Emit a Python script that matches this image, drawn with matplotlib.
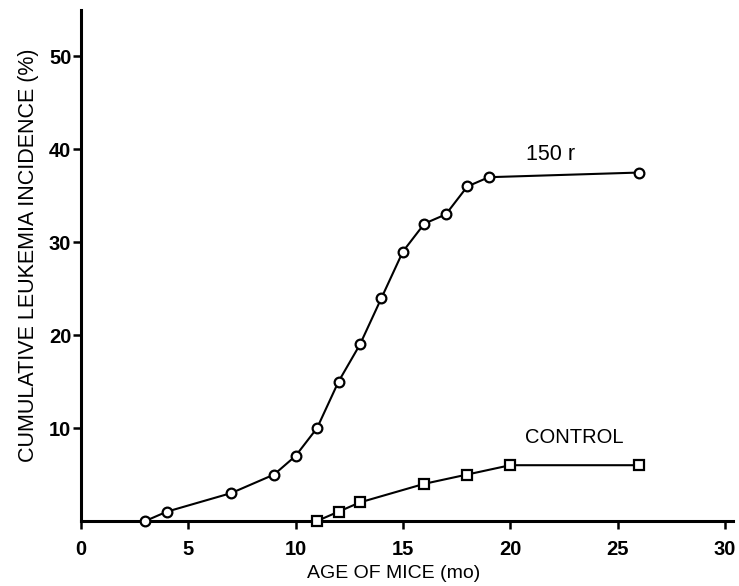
import matplotlib
matplotlib.use("Agg")
import matplotlib.pyplot as plt

# Data
age_150r = [3, 4, 7, 9, 10, 11, 12, 13, 14, 15, 16, 17, 18, 19, 26]
inc_150r = [0, 1, 3, 5, 7, 10, 15, 19, 24, 29, 32, 33, 36, 37, 37.5]
age_ctrl = [11, 12, 13, 16, 18, 20, 26]
inc_ctrl = [0, 1, 2, 4, 5, 6, 6]
x_ticks = [0, 5, 10, 15, 20, 25, 30]
y_ticks = [10, 20, 30, 40, 50]

plt.rcParams['font.family'] = ['Liberation Sans', 'DejaVu Sans']

fig = plt.figure(figsize=(7.39, 5.86), dpi=100)
ax = fig.add_axes([0.1096, 0.111, 0.882, 0.872])

ax.plot(age_150r, inc_150r, color='black', lw=1.5, marker='o', ms=7,
        mfc='white', mec='black', mew=1.6, clip_on=False, zorder=3)
ax.plot(age_ctrl, inc_ctrl, color='black', lw=1.5, marker='s', ms=6.5,
        mfc='white', mec='black', mew=1.6, clip_on=False, zorder=3)

ax.set_xlim(0, 30.37)
ax.set_ylim(0, 55)
ax.set_xticks(x_ticks)
ax.set_xticklabels([str(t) for t in x_ticks])
ax.set_yticks(y_ticks)
ax.set_yticklabels([str(t) for t in y_ticks])

for s in ['top', 'right']:
    ax.spines[s].set_visible(False)
for s in ['left', 'bottom']:
    ax.spines[s].set_linewidth(2.2)
ax.tick_params(axis='both', direction='out', length=6, width=1.8,
               labelsize=14.5)
ax.tick_params(axis='x', pad=8)
ax.tick_params(axis='y', pad=1)
for lab in ax.get_xticklabels() + ax.get_yticklabels():
    lab.set_fontweight('bold')

ax.set_xlabel('AGE OF MICE (mo)', fontsize=14)
ax.xaxis.set_label_coords(0.48, -0.086)
ax.set_ylabel('CUMULATIVE LEUKEMIA INCIDENCE (%)', fontsize=15.5)
ax.yaxis.set_label_coords(-0.064, 0.52)

ax.annotate('150 r', xy=(21.9, 39.4), fontsize=15.5,
            ha='center', va='center')
ax.annotate('CONTROL', xy=(23.0, 9.0), fontsize=14.5,
            ha='center', va='center')

fig.savefig('out.png', dpi=100)
